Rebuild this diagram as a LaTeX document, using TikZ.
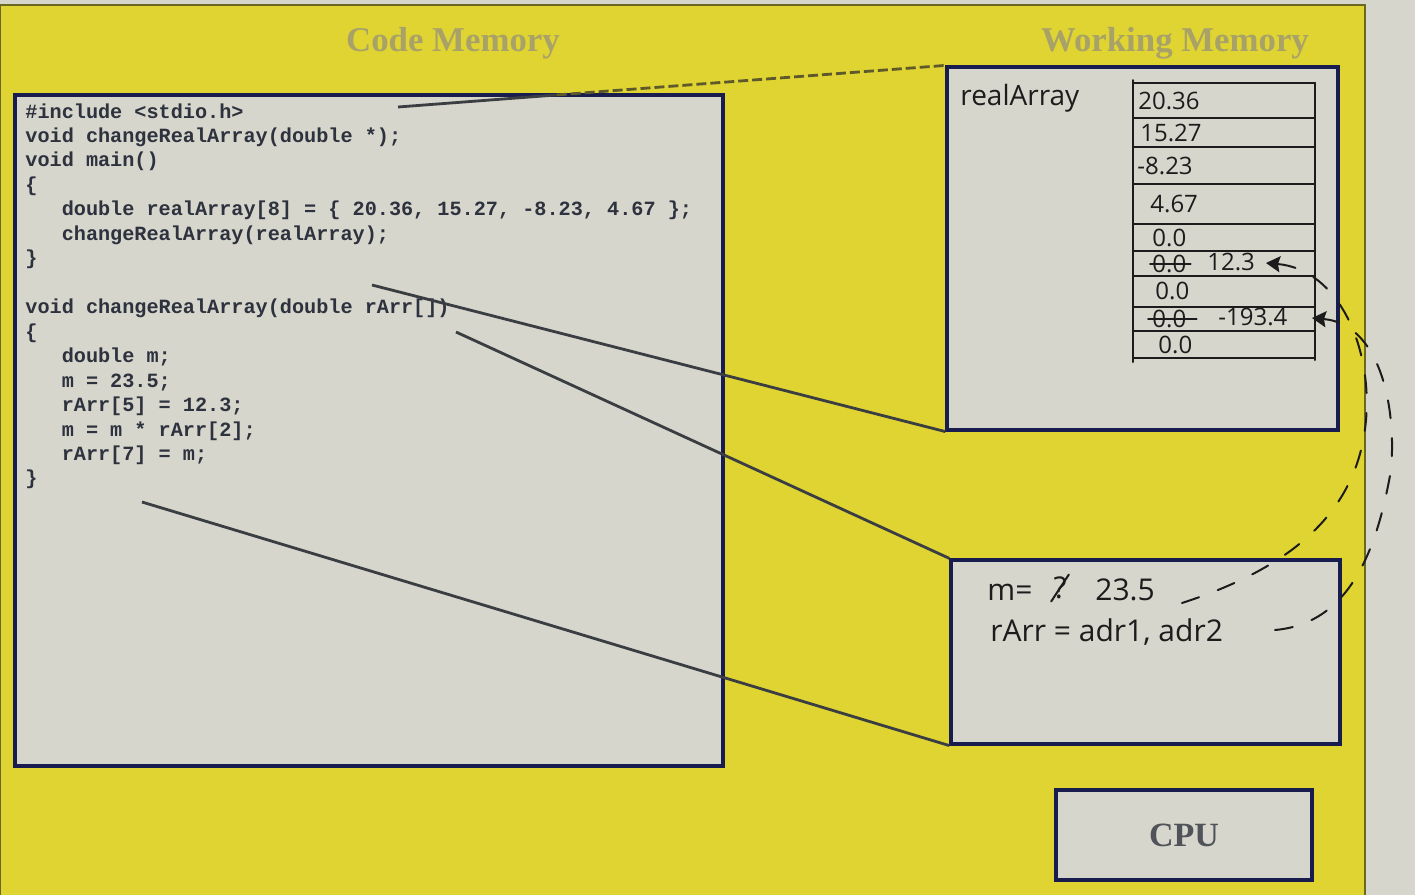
\documentclass[tikz,border=0pt]{standalone}
\usepackage{fontspec}
\setmainfont{Liberation Serif}
\setmonofont{Liberation Mono}
\newfontfamily\handfont{Open Sans}
\usetikzlibrary{arrows.meta,calc}

\definecolor{paper}{RGB}{214,214,204}
\definecolor{board}{RGB}{224,212,50}
\definecolor{frameblue}{RGB}{24,28,78}
\definecolor{ink}{RGB}{28,28,28}
\definecolor{codeink}{RGB}{45,50,62}
\definecolor{titleink}{RGB}{168,162,104}
\definecolor{cpuink}{RGB}{80,84,90}
\definecolor{wirecol}{RGB}{58,62,66}

\newcommand{\ind}{\phantom{xxx}}

\tikzset{
  membox/.style={draw=frameblue,line width=1.6pt,fill=paper,inner sep=0pt},
  wire/.style={draw=wirecol,line width=1.4pt},
  hand/.style={text=ink,font=\handfont\fontsize{14}{16}\selectfont,inner sep=1pt},
  cellhand/.style={hand,font=\handfont\fontsize{12}{13}\selectfont,inner sep=0pt},
  bighand/.style={hand,font=\handfont\fontsize{15}{17}\selectfont},
  handline/.style={draw=ink,line width=1pt,line cap=round},
  handdash/.style={handline,dash pattern=on 9pt off 10pt},
  handtip/.style={-{Stealth[length=7pt,width=8pt,inset=1pt]}},
  title/.style={text=titleink,font=\bfseries\fontsize{17.4}{20}\selectfont},
}

\begin{document}
\begin{tikzpicture}[x=0.5pt,y=-0.5pt]
\useasboundingbox (0,0) rectangle (1415,895);
\fill[paper] (0,0) rectangle (1415,895);
\draw[fill=board,draw=olive!70!black,line width=1pt] (0,5) rectangle (1365,897);

% titles
\node[title] (codetitle) at (453,43) {Code Memory};
\node[title] (worktitle) at (1175,43) {Working Memory};

% boxes
\node[membox,minimum width=354pt,minimum height=335.5pt] (codemem) at (369,430.5) {};
\node[membox,minimum width=195.5pt,minimum height=181.5pt] (workmem) at (1142.5,248.5) {};
\node[membox,minimum width=194.5pt,minimum height=92pt] (frame) at (1145.5,652) {};
\node[membox,minimum width=128pt,minimum height=45pt,text=cpuink,font=\bfseries\fontsize{17}{20}\selectfont] (cpu) at (1184,835) {CPU};

% program
\node[anchor=north west,align=left,inner sep=0pt,text=codeink,font=\ttfamily\bfseries\fontsize{10.1}{12.23}\selectfont] (code) at (25,103) {%
\#include <stdio.h>\\
void changeRealArray(double *);\\
void main()\\
\{\\
\ind double realArray[8] = \{ 20.36, 15.27, -8.23, 4.67 \};\\
\ind changeRealArray(realArray);\\
\}\\
\mbox{}\\
void changeRealArray(double rArr[])\\
\{\\
\ind double m;\\
\ind m = 23.5;\\
\ind rArr[5] = 12.3;\\
\ind m = m * rArr[2];\\
\ind rArr[7] = m;\\
\}};

% lines from the code to memory
\coordinate (incl) at (398,107);
\coordinate (mainbody) at (372,285);
\coordinate (fnhead) at (456,332);
\coordinate (fnend) at (142,502);
\coordinate (incbreak) at ($(incl)!0.29!(workmem.north west)$);
\draw[wire] (incl) -- (incbreak);
\draw[wire,draw=olive!55!black,dash pattern=on 5pt off 2pt] (incbreak) -- (workmem.north west);
\draw[wire] (mainbody) -- (workmem.south west);
\draw[wire] (fnhead) -- (frame.north west);
\draw[wire] (fnend) -- (frame.south west);

% realArray
\node[hand,anchor=west] (arrname) at (958,98) {realArray};
\foreach \y in {83,118,147,184,224,251,276,307,331,358}
  \draw[handline] (1133,\y) -- (1315,\y);
\draw[handline] (1133,80) -- (1133,362);
\draw[handline] (1315,83) -- (1315,360);
\foreach \x/\y/\v [count=\i] in {1138/101/20.36, 1140/133/15.27, 1137/166/-8.23, 1150/204/4.67, 1152/238/0.0, 1155/291/0.0, 1158/345/0.0}
  \node[cellhand,anchor=west] (cell\i) at (\x,\y) {\v};
\node[cellhand,anchor=west] (old5) at (1152,264) {0.0};
\draw[handline] ([xshift=-1pt]old5.west) -- ([xshift=2pt]old5.east);
\node[cellhand,anchor=west] (new5) at (1207,262) {12.3};
\node[cellhand,anchor=west] (old7) at (1152,319) {0.0};
\draw[handline] ([xshift=-2pt]old7.west) -- ([xshift=5pt]old7.east);
\node[cellhand,anchor=west] (new7) at (1218,317) {-193.4};

% changeRealArray
\node[bighand,anchor=west] (mlab) at (985,592) {m=};
\node[bighand] (mold) at (1060,588) {?};
\draw[handline] (mold.south west) -- (mold.north east);
\node[bighand,anchor=west] (mnew) at (1093,590) {23.5};
\node[bighand,anchor=west] (rarr) at (988,632) {rArr = adr1, adr2};

\coordinate (adrone) at (1182,603);
\coordinate (adrtwo) at (1275,630);
\coordinate (tipA) at (1266,263);
\coordinate (tipB) at (1312,318);
\draw[handdash,handtip] (adrone) to[out=18,in=-95] (1366,420) to[out=85,in=-5] (tipA);
\draw[handdash,handtip] (adrtwo) to[out=5,in=-100] (1391,470) to[out=85,in=-5] (tipB);
\end{tikzpicture}
\end{document}
